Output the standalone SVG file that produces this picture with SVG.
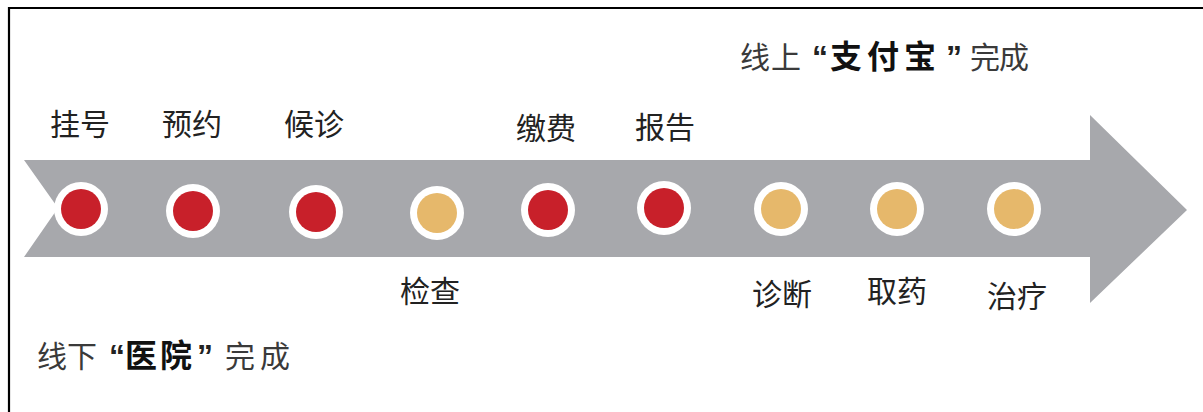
<svg xmlns="http://www.w3.org/2000/svg" width="1203" height="412" viewBox="0 0 1203 412">
<style>
.lbl{font-family:"Noto Sans CJK SC","Noto Sans CJK JP",sans-serif;font-size:30px;fill:#222;text-anchor:middle}
.cap{font-family:"Noto Sans CJK SC","Noto Sans CJK JP",sans-serif;font-size:30px;fill:#3a3a3a}
.b{font-weight:bold;fill:#111;font-size:32px}
.q{font-family:"Liberation Sans",sans-serif;font-weight:bold;font-size:32px;fill:#222}
.ring{fill:#fff}
.red{fill:#c8202a}
.tan{fill:#e6b86b}
</style>
<rect x="0" y="0" width="1203" height="412" fill="#fff"/>
<path d="M9,412 V8 H1203" fill="none" stroke="#000" stroke-width="2.2"/>
<g id="connectors">
<polygon points="24,160 1090,160 1090,115 1187,210 1090,303 1090,257 24,257 58,208" fill="#a7a8ac"/>
</g>
<g id="n1"><circle class="ring" cx="81" cy="209" r="27"/><circle class="red" cx="81" cy="209" r="20"/><text class="lbl" x="80" y="135">挂号</text></g>
<g id="n2"><circle class="ring" cx="193" cy="211" r="27"/><circle class="red" cx="193" cy="211" r="20"/><text class="lbl" x="192" y="135">预约</text></g>
<g id="n3"><circle class="ring" cx="316" cy="212" r="27"/><circle class="red" cx="316" cy="212" r="20"/><text class="lbl" x="314" y="135">候诊</text></g>
<g id="n4"><circle class="ring" cx="437" cy="213" r="27"/><circle class="tan" cx="437" cy="213" r="20"/><text class="lbl" x="430" y="302">检查</text></g>
<g id="n5"><circle class="ring" cx="548" cy="210" r="27"/><circle class="red" cx="548" cy="210" r="20"/><text class="lbl" x="546" y="139">缴费</text></g>
<g id="n6"><circle class="ring" cx="664" cy="208" r="27"/><circle class="red" cx="664" cy="208" r="20"/><text class="lbl" x="665" y="138">报告</text></g>
<g id="n7"><circle class="ring" cx="781" cy="209" r="27"/><circle class="tan" cx="781" cy="209" r="20"/><text class="lbl" x="782" y="305">诊断</text></g>
<g id="n8"><circle class="ring" cx="897" cy="209" r="27"/><circle class="tan" cx="897" cy="209" r="20"/><text class="lbl" x="897" y="302">取药</text></g>
<g id="n9"><circle class="ring" cx="1014" cy="209" r="27"/><circle class="tan" cx="1014" cy="209" r="20"/><text class="lbl" x="1017" y="307">治疗</text></g>
<g id="online">
<text class="cap" y="68"><tspan x="740" letter-spacing="1">线上</tspan><tspan x="812" class="q">“</tspan><tspan x="830" class="b" letter-spacing="5">支付宝</tspan><tspan x="946" class="q">”</tspan><tspan x="970" letter-spacing="-1">完成</tspan></text>
</g>
<g id="offline">
<text class="cap" y="367"><tspan x="37">线下</tspan><tspan x="109" class="q">“</tspan><tspan x="125" class="b" letter-spacing="3">医院</tspan><tspan x="197" class="q">”</tspan><tspan x="225" letter-spacing="5">完成</tspan></text>
</g>
</svg>
